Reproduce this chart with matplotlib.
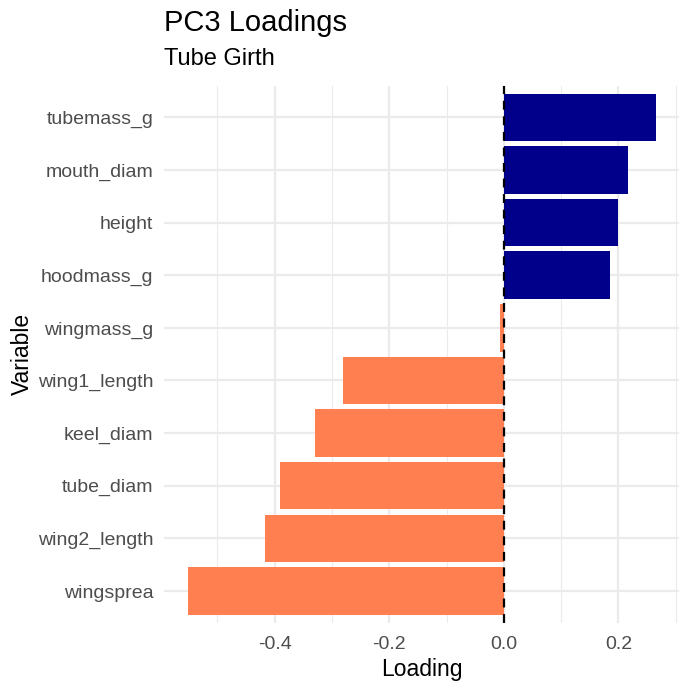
import matplotlib.pyplot as plt
from matplotlib.ticker import MultipleLocator

plt.rcParams['font.family'] = ['Liberation Sans', 'DejaVu Sans']

# loadings, bottom to top
variables = ['wingsprea', 'wing2_length', 'tube_diam', 'keel_diam', 'wing1_length',
             'wingmass_g', 'hoodmass_g', 'height', 'mouth_diam', 'tubemass_g']
loadings = [-0.551, -0.417, -0.391, -0.330, -0.281,
            -0.007, 0.186, 0.199, 0.216, 0.265]

colors = ['#00008B' if v > 0 else '#FF7F50' for v in loadings]

fig = plt.figure(figsize=(6.91, 6.91), dpi=100)
ax = fig.add_axes([0.238, 0.099, 0.745, 0.777])

pos = range(1, len(variables) + 1)
ax.barh(pos, loadings, height=0.9, color=colors, zorder=2)
ax.axvline(0, color='black', linestyle=(0, (4, 3)), linewidth=1.6, zorder=3)

ax.set_xlim(-0.592, 0.306)
ax.set_ylim(0.4, len(variables) + 0.6)
ax.set_yticks(list(pos))
ax.set_yticklabels(variables)
ax.xaxis.set_minor_locator(MultipleLocator(0.1))
ax.set_xticks([-0.4, -0.2, 0.0, 0.2])
ax.set_xticklabels(['-0.4', '-0.2', '0.0', '0.2'])

ax.grid(which='major', color='#EBEBEB', linewidth=1.6, zorder=0)
ax.grid(which='minor', axis='x', color='#EBEBEB', linewidth=0.8, zorder=0)
ax.set_axisbelow(True)
for s in ax.spines.values():
    s.set_visible(False)
ax.tick_params(which='both', length=0, labelsize=14, labelcolor='#4D4D4D')
ax.tick_params(axis='x', pad=10)
ax.tick_params(axis='y', pad=8)

ax.set_xlabel('Loading', fontsize=16.5, labelpad=3)
ax.set_ylabel('Variable', fontsize=16.5, labelpad=3)

fig.text(0.238, 0.967, 'PC3 Loadings', fontsize=21, va='center', ha='left')
fig.text(0.238, 0.914, 'Tube Girth', fontsize=17, va='center', ha='left')

fig.savefig('out.png', dpi=100)
